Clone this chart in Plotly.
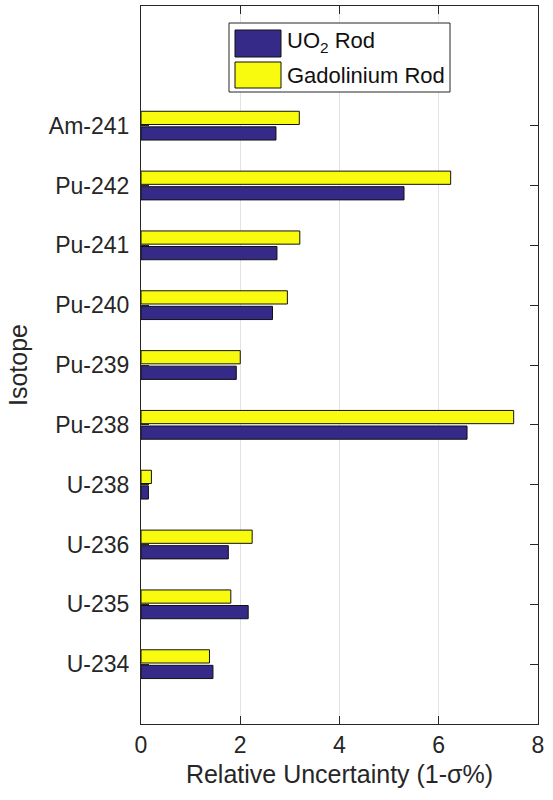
import plotly.graph_objects as go

# Isotopes, bottom to top
isotopes = ["U-234", "U-235", "U-236", "U-238", "Pu-238",
            "Pu-239", "Pu-240", "Pu-241", "Pu-242", "Am-241"]
positions = list(range(1, len(isotopes) + 1))

# Relative uncertainty (1-sigma %)
uo2_rod = [1.45, 2.16, 1.76, 0.15, 6.57, 1.92, 2.65, 2.74, 5.30, 2.72]
gd_rod = [1.38, 1.81, 2.24, 0.21, 7.51, 2.00, 2.95, 3.20, 6.24, 3.19]

x_ticks = [0, 2, 4, 6, 8]

BLUE = "#352a87"
YELLOW = "#f9fb0e"
AXIS = "#262626"
FONT = "Liberation Sans, Arial, sans-serif"

W, H = 553, 800
L, R, T, B = 141, 15, 6, 76


def fx(px):
    return (px - L) / (W - L - R)


def fy(py):
    return (H - B - py) / (H - T - B)


fig = go.Figure()
fig.add_trace(go.Bar(
    y=positions, x=uo2_rod, orientation="h", name="UO<sub>2</sub> Rod",
    marker=dict(color=BLUE, line=dict(color="#111111", width=1)),
    showlegend=False,
))
fig.add_trace(go.Bar(
    y=positions, x=gd_rod, orientation="h", name="Gadolinium Rod",
    marker=dict(color=YELLOW, line=dict(color="#111111", width=1)),
    showlegend=False,
))

# Boxed legend with large swatches
shapes = [
    dict(type="rect", xref="paper", yref="paper",
         x0=fx(229), x1=fx(450), y0=fy(92), y1=fy(23),
         fillcolor="white", line=dict(color=AXIS, width=1), layer="above"),
    dict(type="rect", xref="paper", yref="paper",
         x0=fx(235), x1=fx(281), y0=fy(57), y1=fy(30),
         fillcolor=BLUE, line=dict(color="#111111", width=1), layer="above"),
    dict(type="rect", xref="paper", yref="paper",
         x0=fx(235), x1=fx(281), y0=fy(88), y1=fy(62),
         fillcolor=YELLOW, line=dict(color="#111111", width=1), layer="above"),
]
annotations = [
    dict(xref="paper", yref="paper", x=fx(285), y=fy(42),
         xanchor="left", yanchor="middle", showarrow=False,
         text="UO<sub>2</sub> Rod", font=dict(family=FONT, size=22, color="#111111")),
    dict(xref="paper", yref="paper", x=fx(285), y=fy(76),
         xanchor="left", yanchor="middle", showarrow=False,
         text="Gadolinium Rod", font=dict(family=FONT, size=22, color="#111111")),
]

fig.update_layout(
    width=W, height=H,
    margin=dict(l=L, r=R, t=T, b=B),
    paper_bgcolor="white", plot_bgcolor="white",
    barmode="group", bargap=0.48, bargroupgap=0.15,
    font=dict(family=FONT, size=23, color=AXIS),
    shapes=shapes, annotations=annotations,
    xaxis=dict(
        range=[0, 8], tickvals=x_ticks, ticktext=[str(v) for v in x_ticks],
        showgrid=True, gridcolor="#e3e3e3", gridwidth=1, zeroline=False,
        showline=True, linecolor=AXIS, linewidth=1, mirror="ticks",
        ticks="inside", ticklen=8, tickcolor=AXIS,
        tickfont=dict(size=23),
        title=dict(text="Relative Uncertainty (1-σ%)", font=dict(size=25), standoff=8),
    ),
    yaxis=dict(
        range=[0, 12], tickvals=positions, ticktext=isotopes,
        showgrid=False, zeroline=False,
        showline=True, linecolor=AXIS, linewidth=1, mirror="ticks",
        ticks="inside", ticklen=8, tickcolor=AXIS,
        tickfont=dict(size=23), ticklabelstandoff=6,
        title=dict(text="Isotope", font=dict(size=25), standoff=14),
    ),
)

fig.write_html("out.html")
